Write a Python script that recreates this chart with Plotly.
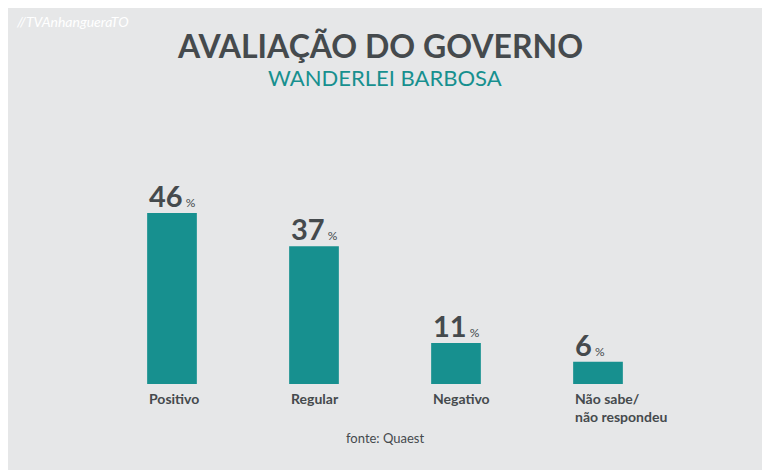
import plotly.graph_objects as go

categories = ['Positivo', 'Regular', 'Negativo', 'Não sabe/<br>não respondeu']
values = [46, 37, 11, 6]

TEAL = '#17908f'
DARK = '#454a4d'
BW = 0.35
W, H, OFF = 762, 462, 8  # page has an 8px body margin


def px(x):
    return (x - OFF) / W


def py(y):
    return 1 - (y - OFF) / H


fig = go.Figure()
fig.add_trace(go.Bar(
    x=list(range(len(categories))), y=values,
    width=BW, marker=dict(color=TEAL, line=dict(width=0)),
    hoverinfo='skip',
))

for i, (cat, v) in enumerate(zip(categories, values)):
    fig.add_annotation(
        x=i - BW / 2, y=v, xref='x', yref='y', xanchor='left', yanchor='bottom',
        text=f"<b>{v}</b><span style='font-size:12px'> %</span>",
        showarrow=False, yshift=-2,
        font=dict(family='Lato', size=29, color=DARK),
    )
    fig.add_annotation(
        x=i - BW / 2, y=0, xref='x', yref='y', xanchor='left', yanchor='top',
        text=f"<b>{cat}</b>", showarrow=False, yshift=-4, align='left',
        font=dict(family='Lato', size=14, color=DARK),
    )

fig.add_annotation(x=px(380), y=py(46), xref='paper', yref='paper', showarrow=False,
                   text='<b>AVALIAÇÃO DO GOVERNO</b>', yanchor='middle',
                   font=dict(family='Lato', size=32, color=DARK))
fig.add_annotation(x=px(385), y=py(77), xref='paper', yref='paper', showarrow=False,
                   text='WANDERLEI BARBOSA', yanchor='middle',
                   font=dict(family='Lato', size=22, color=TEAL))
fig.add_annotation(x=px(385), y=py(438), xref='paper', yref='paper', showarrow=False,
                   text='fonte: Quaest', yanchor='middle',
                   font=dict(family='Lato', size=13, color=DARK))
fig.add_annotation(x=px(14), y=py(22), xref='paper', yref='paper', showarrow=False,
                   text='<i>//TVAnhangueraTO</i>', xanchor='left', yanchor='middle',
                   font=dict(family='Lato', size=14, color='#ffffff'))

fig.update_layout(
    width=W, height=H,
    margin=dict(l=0, r=0, t=0, b=0),
    paper_bgcolor='#e6e7e8', plot_bgcolor='rgba(0,0,0,0)',
    showlegend=False,
    xaxis=dict(domain=[px(101), px(669)], range=[-0.5, 3.5], visible=False, fixedrange=True),
    yaxis=dict(domain=[py(384), py(198)], range=[0, 50], visible=False, fixedrange=True),
)

fig.write_html('out.html')
